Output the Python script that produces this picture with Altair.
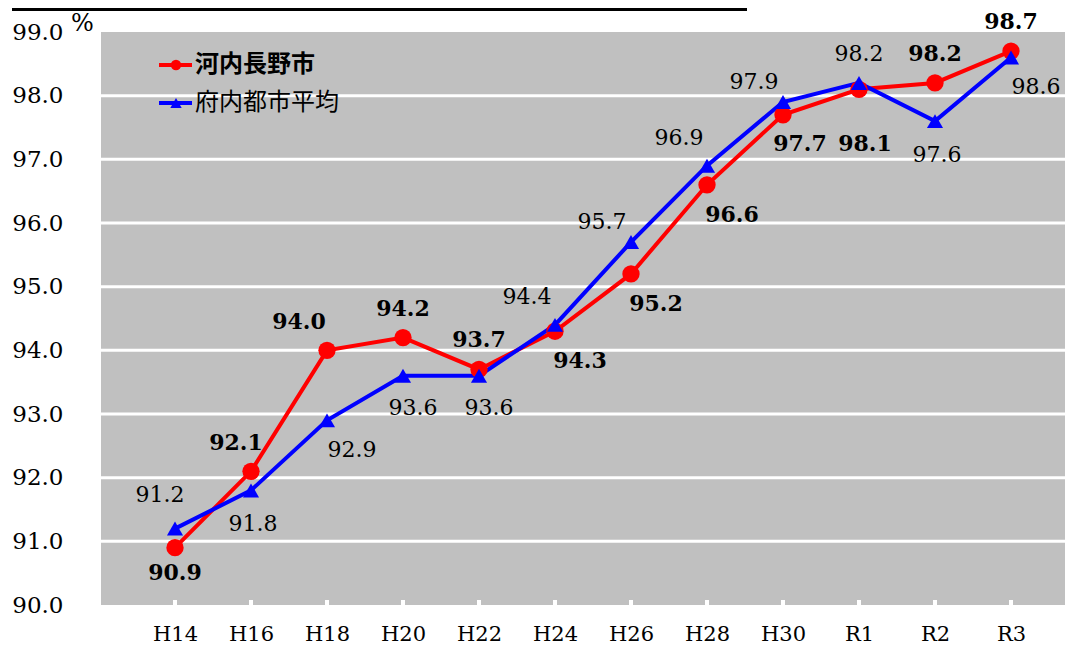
import altair as alt
import pandas as pd

categories = ["H14", "H16", "H18", "H20", "H22", "H24", "H26", "H28", "H30", "R1", "R2", "R3"]
kawachinagano = [90.9, 92.1, 94.0, 94.2, 93.7, 94.3, 95.2, 96.6, 97.7, 98.1, 98.2, 98.7]
fu_average = [91.2, 91.8, 92.9, 93.6, 93.6, 94.4, 95.7, 96.9, 97.9, 98.2, 97.6, 98.6]
series_names = ["河内長野市", "府内都市平均"]
# label placement codes for each point
red_place = ["B1", "AL2", "AL", "A", "A", "BR", "BR", "BR", "BR3", "BB", "A", "A"]
blue_place = ["AL3", "B2", "BR", "BR2", "BR2", "AL", "L", "AL", "L", "A", "B2", "BR"]
y_ticks = [90, 91, 92, 93, 94, 95, 96, 97, 98, 99]
grid_values = [91, 92, 93, 94, 95, 96, 97, 98]

# style: label offsets (dx, dy) in pixels for each placement code
OFFSETS = {
    "A": (0, -29), "B1": (0, 25), "B2": (2, 34), "AL": (-28, -28), "AL2": (-15, -28),
    "AL3": (-15, -34), "BR": (25, 30), "BR2": (10, 32), "BR3": (17, 29), "BB": (6, 55),
    "L": (-29, -20),
}

W, H = 964, 573
RED = "#ff0000"
BLUE = "#0000ff"
NUMFONT = "DejaVu Serif"

rows = []
for i, c in enumerate(categories):
    rows.append({"cat": c, "value": kawachinagano[i], "series": series_names[0], "place": red_place[i]})
    rows.append({"cat": c, "value": fu_average[i], "series": series_names[1], "place": blue_place[i]})
df = pd.DataFrame(rows)

xs = alt.X("cat:N", sort=categories,
           scale=alt.Scale(type="point", range=[74, 910], padding=0),
           axis=alt.Axis(title=None, labelAngle=0, labelFont=NUMFONT, labelFontSize=21,
                         labelColor="#000000", labelPadding=18, domain=False, ticks=False, grid=False))
ys = alt.Y("value:Q", scale=alt.Scale(domain=[90, 99], nice=False, zero=False),
           axis=alt.Axis(title=None, values=y_ticks, format=".1f", labelFont=NUMFONT, labelFontSize=23,
                         labelColor="#000000", labelPadding=38, domain=False, ticks=False, grid=False))

base = alt.Chart(df)

red = base.transform_filter(alt.datum.series == series_names[0])
blue = base.transform_filter(alt.datum.series == series_names[1])

# white horizontal gridlines across the full plot width
grid = alt.Chart(pd.DataFrame({"g": grid_values})).mark_rule(color="#ffffff", strokeWidth=3).encode(
    y=alt.Y("g:Q"), x=alt.value(0), x2=alt.value(W))

red_line = red.mark_line(color=RED, strokeWidth=4).encode(x=xs, y=ys)
blue_line = blue.mark_line(color=BLUE, strokeWidth=4).encode(x=xs, y=ys)
red_pts = red.mark_point(shape="circle", filled=True, color=RED, size=300, opacity=1).encode(
    x=alt.X("cat:N", sort=categories), y="value:Q")
blue_pts = blue.mark_point(shape="triangle-up", filled=True, color=BLUE, size=260, opacity=1).encode(
    x=alt.X("cat:N", sort=categories), y="value:Q")

label_layers = []
for code, (dx, dy) in OFFSETS.items():
    if code in red_place:
        label_layers.append(
            red.transform_filter(alt.datum.place == code).mark_text(
                dx=dx, dy=dy, font=NUMFONT, fontSize=22, fontWeight="bold", color="#000000"
            ).encode(x=alt.X("cat:N", sort=categories), y="value:Q",
                     text=alt.Text("value:Q", format=".1f")))
    if code in blue_place:
        label_layers.append(
            blue.transform_filter(alt.datum.place == code).mark_text(
                dx=dx, dy=dy, font=NUMFONT, fontSize=22, color="#000000"
            ).encode(x=alt.X("cat:N", sort=categories), y="value:Q",
                     text=alt.Text("value:Q", format=".1f")))

# small white tick marks at the bottom of the plot
ticks = alt.Chart(pd.DataFrame({"cat": categories})).mark_rule(color="#ffffff", strokeWidth=4).encode(
    x=alt.X("cat:N", sort=categories), y=alt.value(H - 5), y2=alt.value(H))

# legend (manual)
leg = pd.DataFrame({"name": series_names, "row": [0, 1]})
leg_red_line = alt.Chart(leg).transform_filter(alt.datum.row == 0).mark_rule(color=RED, strokeWidth=4).encode(
    x=alt.value(58), x2=alt.value(91), y=alt.value(33))
leg_blue_line = alt.Chart(leg).transform_filter(alt.datum.row == 1).mark_rule(color=BLUE, strokeWidth=4).encode(
    x=alt.value(58), x2=alt.value(91), y=alt.value(71))
leg_red_pt = alt.Chart(leg).transform_filter(alt.datum.row == 0).mark_point(
    shape="circle", filled=True, color=RED, size=110, opacity=1).encode(x=alt.value(75), y=alt.value(33))
leg_blue_pt = alt.Chart(leg).transform_filter(alt.datum.row == 1).mark_point(
    shape="triangle-up", filled=True, color=BLUE, size=130, opacity=1).encode(x=alt.value(75), y=alt.value(71))
leg_red_txt = alt.Chart(leg).transform_filter(alt.datum.row == 0).mark_text(
    align="left", baseline="middle", font="Noto Sans CJK JP", fontSize=24, fontWeight="bold", color="#000000"
).encode(x=alt.value(94), y=alt.value(33), text="name:N")
leg_blue_txt = alt.Chart(leg).transform_filter(alt.datum.row == 1).mark_text(
    align="left", baseline="middle", font="Noto Sans CJK JP", fontSize=24, color="#000000"
).encode(x=alt.value(94), y=alt.value(71), text="name:N")

# percent unit text and top black line
unit = alt.Chart(pd.DataFrame({"u": ["%"]})).mark_text(
    align="left", baseline="middle", font=NUMFONT, fontSize=24, color="#000000"
).encode(x=alt.value(-30), y=alt.value(-8), text="u:N")
top_line = alt.Chart(pd.DataFrame({"u": [0]})).mark_rule(color="#000000", strokeWidth=3).encode(
    x=alt.value(-89), x2=alt.value(646), y=alt.value(-22.5))

chart = alt.layer(
    grid, red_line, blue_line, ticks, red_pts, blue_pts, *label_layers,
    leg_red_line, leg_blue_line, leg_red_pt, leg_blue_pt, leg_red_txt, leg_blue_txt,
    unit, top_line
).properties(
    width=W, height=H,
    padding={"left": 93, "top": 24, "right": 0, "bottom": 40},
    autosize=alt.AutoSizeParams(type="none"),
    background="#ffffff",
).configure_view(fill="#c0c0c0", stroke=None)

chart.save("out.html", embed_options={"renderer": "svg", "actions": False})
